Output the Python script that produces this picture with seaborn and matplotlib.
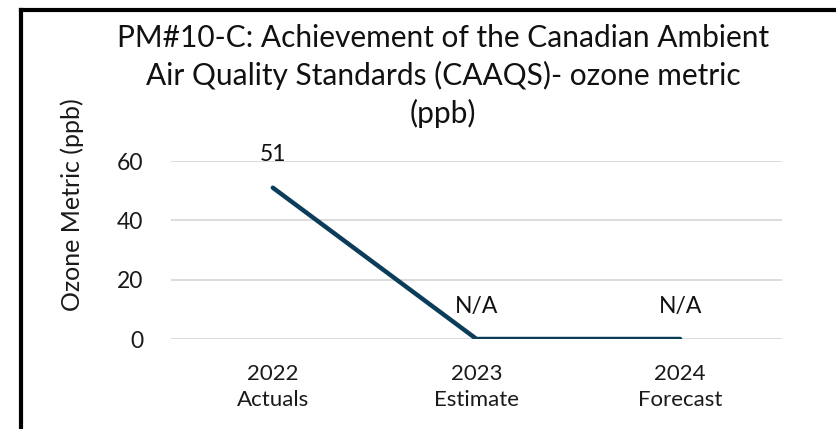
import matplotlib
matplotlib.use("Agg")
import matplotlib.pyplot as plt
import seaborn as sns
import pandas as pd
from matplotlib.lines import Line2D

years = ["2022", "2023", "2024"]
periods = ["Actuals", "Estimate", "Forecast"]
values = [51, 0, 0]
point_labels = ["51", "N/A", "N/A"]
yticks = [0, 20, 40, 60]
title = "PM#10-C: Achievement of the Canadian Ambient\nAir Quality Standards (CAAQS)- ozone metric\n(ppb)"
ylabel = "Ozone Metric (ppb)"

categories = [f"{y}\n{p}" for y, p in zip(years, periods)]
df = pd.DataFrame({"category": categories, "value": values})

sns.set_theme(style="white")
plt.rcParams["font.family"] = ["Lato", "DejaVu Sans"]

W, H = 836, 429
fig = plt.figure(figsize=(W / 100, H / 100), dpi=100)
ax = fig.add_axes([171 / W, 1 - 339 / H, (782 - 171) / W, (339 - 161) / H])

line_color = "#0B3D5B"
sns.lineplot(data=df, x="category", y="value", ax=ax, color=line_color,
             linewidth=3.2, sort=False)
for l in ax.get_lines():
    l.set_solid_capstyle("round")
    l.set_solid_joinstyle("miter")

ax.set_xlim(-0.5, 2.5)
ax.set_ylim(0, 60)
ax.set_yticks(yticks)
ax.set_yticklabels([str(t) for t in yticks], fontsize=16.5, color="#1a1a1a")
ax.yaxis.grid(True, color="#D9D9D9", linewidth=1.3)
ax.set_axisbelow(True)
for s in ax.spines.values():
    s.set_visible(False)
ax.tick_params(axis="y", length=0, pad=20)
ax.tick_params(axis="x", length=0, pad=18)
ax.set_xticks(range(len(categories)))
ax.set_xticklabels(categories, fontsize=16, color="#1a1a1a", linespacing=1.4)
ax.set_xlabel("")
ax.set_ylabel("")

for i, (v, lab) in enumerate(zip(values, point_labels)):
    ax.annotate(lab, (i, v), xytext=(0, 33), textcoords="offset pixels",
                ha="center", va="center", fontsize=16.5, color="#111111")

fig.text(443 / W, 1 - 76 / H, title, ha="center", va="center", fontsize=21.5,
         linespacing=1.38, color="#111111")
fig.text(72 / W, 1 - 205 / H, ylabel, ha="center", va="center", rotation=90,
         fontsize=18, color="#1a1a1a")

# frame (top and left edges visible)
fig.add_artist(Line2D([21 / W, 1.0], [1 - 10 / H, 1 - 10 / H], transform=fig.transFigure,
                      color="black", linewidth=3, solid_capstyle="projecting"))
fig.add_artist(Line2D([21 / W, 21 / W], [1 - 10 / H, 0.0], transform=fig.transFigure,
                      color="black", linewidth=3, solid_capstyle="projecting"))

fig.savefig("out.png", dpi=100)
